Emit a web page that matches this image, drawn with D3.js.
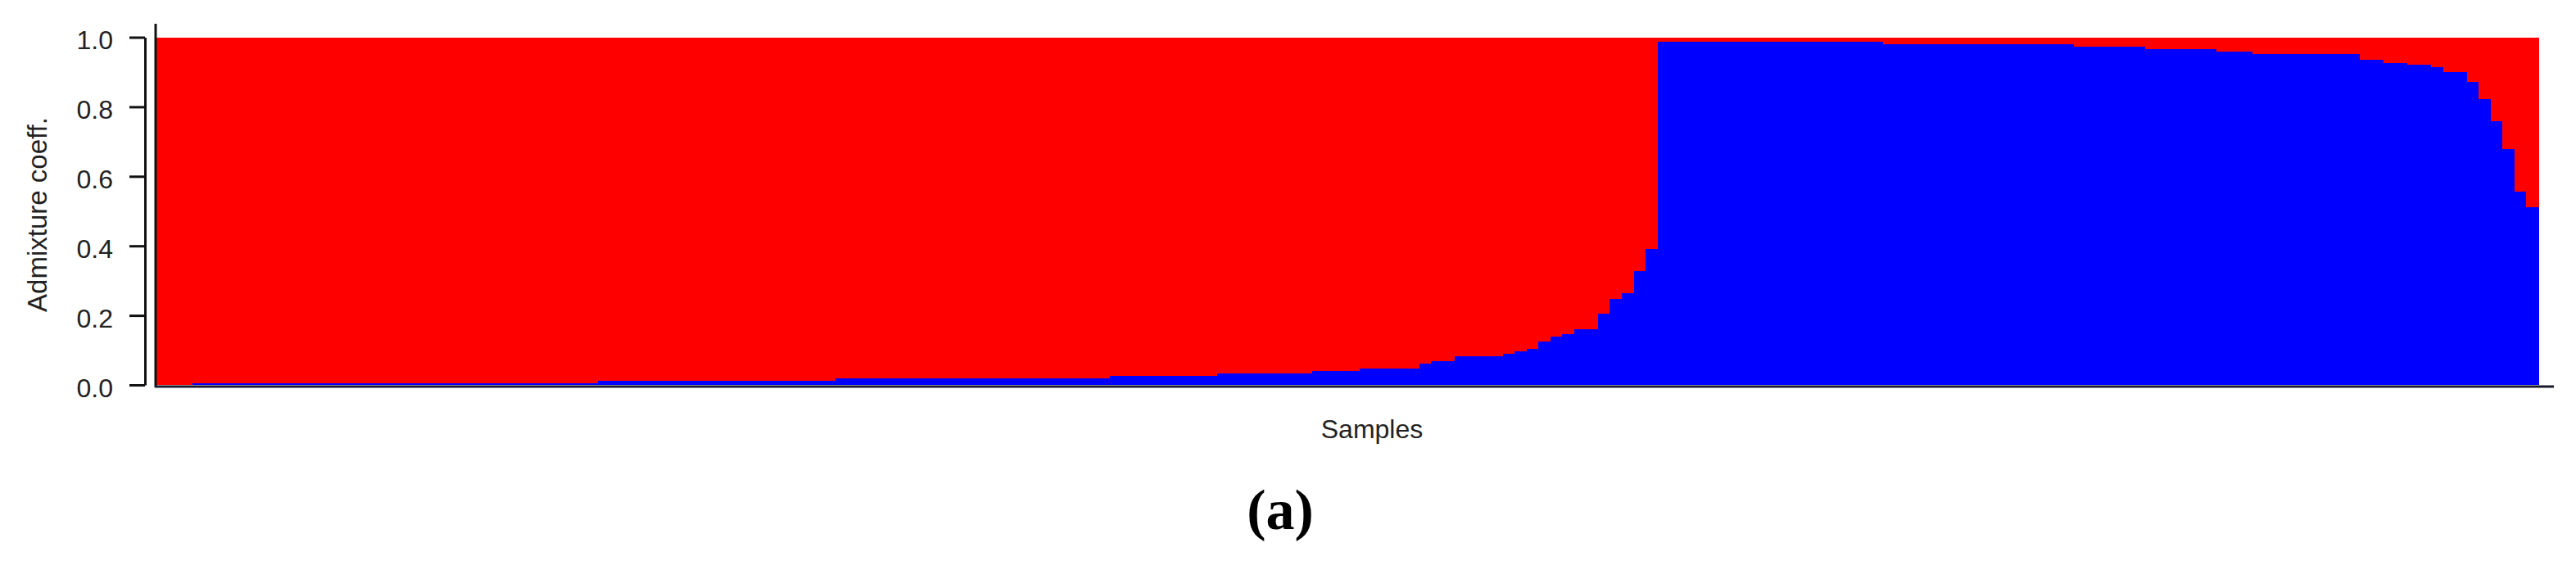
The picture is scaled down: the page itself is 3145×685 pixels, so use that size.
<!DOCTYPE html>
<html>
<head>
<meta charset="utf-8">
<script src="https://cdn.jsdelivr.net/npm/d3@7"></script>
<style>
  body { margin: 0; background: white; }
</style>
</head>
<body>
<div id="viz-container"></div>
<script>
// admixture coefficients, one value per sample, sorted as in the plot
// cluster 1 (blue, drawn at the bottom)
let clusterBlue = [
  0.001,0.001,0.001,0.004,0.004,0.004,0.004,0.004,0.004,0.004,
  0.004,0.004,0.004,0.004,0.004,0.004,0.004,0.004,0.004,0.004,
  0.004,0.004,0.004,0.004,0.004,0.004,0.004,0.004,0.004,0.004,
  0.004,0.004,0.004,0.004,0.004,0.004,0.004,0.011,0.011,0.011,
  0.011,0.011,0.011,0.011,0.011,0.011,0.011,0.011,0.011,0.011,
  0.011,0.011,0.011,0.011,0.011,0.011,0.011,0.019,0.019,0.019,
  0.019,0.019,0.019,0.019,0.019,0.019,0.019,0.019,0.019,0.019,
  0.019,0.019,0.019,0.019,0.019,0.019,0.019,0.019,0.019,0.019,
  0.026,0.026,0.026,0.026,0.026,0.026,0.026,0.026,0.026,0.033,
  0.033,0.033,0.033,0.033,0.033,0.033,0.033,0.040,0.040,0.040,
  0.040,0.047,0.047,0.047,0.047,0.047,0.061,0.069,0.069,0.082,
  0.082,0.082,0.082,0.090,0.096,0.104,0.125,0.140,0.145,0.161,
  0.161,0.204,0.247,0.263,0.328,0.392,0.987,0.987,0.987,0.987,
  0.987,0.987,0.987,0.987,0.987,0.987,0.987,0.987,0.987,0.987,
  0.987,0.987,0.987,0.987,0.987,0.980,0.980,0.980,0.980,0.980,
  0.980,0.980,0.980,0.980,0.980,0.980,0.980,0.980,0.980,0.980,
  0.980,0.972,0.972,0.972,0.972,0.972,0.972,0.965,0.965,0.965,
  0.965,0.965,0.965,0.958,0.958,0.958,0.951,0.951,0.951,0.951,
  0.951,0.951,0.951,0.951,0.951,0.936,0.936,0.926,0.926,0.920,
  0.920,0.914,0.900,0.900,0.871,0.822,0.758,0.678,0.557,0.512
];

// cluster 2 (red, stacked on top)
let clusterRed = [
  0.999,0.999,0.999,0.996,0.996,0.996,0.996,0.996,0.996,0.996,
  0.996,0.996,0.996,0.996,0.996,0.996,0.996,0.996,0.996,0.996,
  0.996,0.996,0.996,0.996,0.996,0.996,0.996,0.996,0.996,0.996,
  0.996,0.996,0.996,0.996,0.996,0.996,0.996,0.989,0.989,0.989,
  0.989,0.989,0.989,0.989,0.989,0.989,0.989,0.989,0.989,0.989,
  0.989,0.989,0.989,0.989,0.989,0.989,0.989,0.981,0.981,0.981,
  0.981,0.981,0.981,0.981,0.981,0.981,0.981,0.981,0.981,0.981,
  0.981,0.981,0.981,0.981,0.981,0.981,0.981,0.981,0.981,0.981,
  0.974,0.974,0.974,0.974,0.974,0.974,0.974,0.974,0.974,0.967,
  0.967,0.967,0.967,0.967,0.967,0.967,0.967,0.960,0.960,0.960,
  0.960,0.953,0.953,0.953,0.953,0.953,0.939,0.931,0.931,0.918,
  0.918,0.918,0.918,0.910,0.904,0.896,0.875,0.860,0.855,0.839,
  0.839,0.796,0.753,0.737,0.672,0.608,0.013,0.013,0.013,0.013,
  0.013,0.013,0.013,0.013,0.013,0.013,0.013,0.013,0.013,0.013,
  0.013,0.013,0.013,0.013,0.013,0.020,0.020,0.020,0.020,0.020,
  0.020,0.020,0.020,0.020,0.020,0.020,0.020,0.020,0.020,0.020,
  0.020,0.028,0.028,0.028,0.028,0.028,0.028,0.035,0.035,0.035,
  0.035,0.035,0.035,0.042,0.042,0.042,0.049,0.049,0.049,0.049,
  0.049,0.049,0.049,0.049,0.049,0.064,0.064,0.074,0.074,0.080,
  0.080,0.086,0.100,0.100,0.129,0.178,0.242,0.322,0.443,0.488
];

// sample ids (no tick labels on the x axis)
let samples = clusterBlue.map(function(d, i){ return "S" + (i + 1); });

let clusterKeys = ["blue", "red"];
let clusterColors = ["#0000ff", "#ff0000"];
let yTicks = [0, 0.2, 0.4, 0.6, 0.8, 1.0];

let yTitle = "Admixture coeff.";
let xTitle = "Samples";
let panelLabel = "(a)";

// svg canvas
let w = 3145;
let h = 685;
let viz = d3.select("#viz-container")
                .append("svg")
                    .attr("width", w)
                    .attr("height", h)
                    .style("background-color", "white")
;

// scales
let x = d3.scaleBand()
            .domain(samples)
            .range([191, 3099])
            .paddingInner(0)
            .paddingOuter(0)
;
let y = d3.scaleLinear()
            .domain([0, 1])
            .range([470, 45.5])
;

// table for the stack
let table = samples.map(function(s, i){
    return {sample: s, blue: clusterBlue[i], red: clusterRed[i]};
});
let series = d3.stack().keys(clusterKeys)(table);

let layers = viz.selectAll(".layer").data(series).enter().append("g")
                    .attr("class", "layer")
                    .attr("fill", function(d, i){ return clusterColors[i]; })
;

layers.selectAll("rect").data(function(d){ return d; }).enter().append("rect")
        .attr("x", function(d){ return x(d.data.sample); })
        .attr("width", x.bandwidth() + 0.6)
        .attr("y", function(d){ return y(d[1]); })
        .attr("height", function(d){ return y(d[0]) - y(d[1]); })
        .attr("shape-rendering", "crispEdges")
;

// frame lines like the original plot (left side and bottom)
viz.append("line")
    .attr("x1", 190).attr("x2", 190)
    .attr("y1", 29).attr("y2", 473)
    .attr("stroke", "#111")
    .attr("stroke-width", 3)
;
viz.append("line")
    .attr("x1", 189).attr("x2", 3118)
    .attr("y1", 472).attr("y2", 472)
    .attr("stroke", "#1a1a2e")
    .attr("stroke-width", 3)
;

// y axis, drawn apart from the bars
let yAxis = d3.axisLeft(y)
                .tickValues(yTicks)
                .tickFormat(d3.format(".1f"))
                .tickSize(19)
                .tickSizeOuter(0)
                .tickPadding(20)
;
let yAxisGroup = viz.append("g")
                        .attr("transform", "translate(177,0)")
                        .call(yAxis)
;
yAxisGroup.select(".domain")
            .attr("stroke", "#111")
            .attr("stroke-width", 3)
;
yAxisGroup.selectAll(".tick line")
            .attr("stroke", "#111")
            .attr("stroke-width", 3)
;
yAxisGroup.selectAll(".tick text")
            .attr("dy", "0.45em")
            .style("font-family", "'Liberation Sans', Arial, sans-serif")
            .style("font-size", "32px")
            .attr("fill", "#222")
;

// axis titles
viz.append("text")
    .text(yTitle)
    .attr("transform", "translate(57,262) rotate(-90)")
    .attr("text-anchor", "middle")
    .style("font-family", "'Liberation Sans', Arial, sans-serif")
    .style("font-size", "33px")
    .attr("fill", "#222")
;
viz.append("text")
    .text(xTitle)
    .attr("x", 1675)
    .attr("y", 535)
    .attr("text-anchor", "middle")
    .style("font-family", "'Liberation Sans', Arial, sans-serif")
    .style("font-size", "32px")
    .attr("fill", "#222")
;

// panel label under the chart
viz.append("text")
    .text(panelLabel)
    .attr("x", 1563)
    .attr("y", 646)
    .attr("text-anchor", "middle")
    .style("font-family", "'Liberation Serif', 'Times New Roman', serif")
    .style("font-weight", "bold")
    .style("font-size", "70px")
    .attr("fill", "#000")
;
</script>
</body>
</html>
